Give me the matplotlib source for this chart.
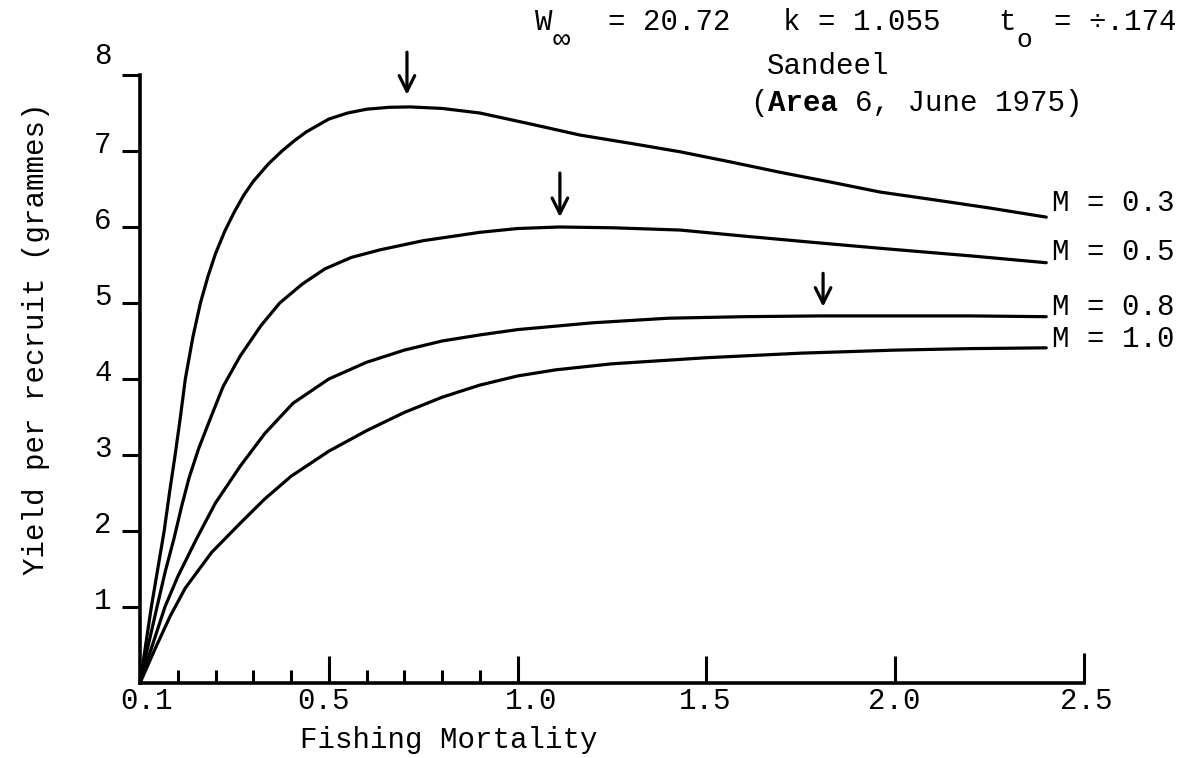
import matplotlib
matplotlib.use('Agg')
import matplotlib.pyplot as plt
from matplotlib.transforms import ScaledTranslation

# ---------------- data ----------------
f_m03 = [0, 0.015, 0.03, 0.047, 0.064, 0.078, 0.093, 0.107, 0.12, 0.14, 0.16, 0.18, 0.2, 0.225, 0.25,
         0.275, 0.3, 0.34, 0.376, 0.41, 0.44, 0.5, 0.55, 0.6, 0.66, 0.715, 0.8, 0.9,
         1.03, 1.165, 1.3, 1.43, 1.56, 1.695, 1.83, 1.96, 2.1, 2.25, 2.4]
y_m03 = [0, 0.5, 1.0, 1.5, 2.0, 2.5, 3.0, 3.5, 4.0, 4.55, 5.0, 5.35, 5.65, 5.95, 6.2,
         6.42, 6.6, 6.83, 7.0, 7.14, 7.25, 7.42, 7.5, 7.55, 7.575, 7.58, 7.56, 7.50,
         7.36, 7.21, 7.10, 6.99, 6.86, 6.72, 6.59, 6.46, 6.36, 6.25, 6.13]

f_m05 = [0, 0.022, 0.045, 0.067, 0.09, 0.11, 0.13, 0.155, 0.18, 0.22, 0.265, 0.32, 0.37, 0.43, 0.49,
         0.56, 0.636, 0.75, 0.9, 1.0, 1.11, 1.25, 1.43, 1.6, 1.8, 1.96, 2.2, 2.4]
y_m05 = [0, 0.5, 1.0, 1.47, 1.9, 2.32, 2.7, 3.08, 3.4, 3.9, 4.3, 4.7, 5.0, 5.25, 5.45,
         5.6, 5.70, 5.82, 5.93, 5.98, 6.0, 5.99, 5.96, 5.88, 5.79, 5.72, 5.62, 5.53]

f_m08 = [0, 0.033, 0.066, 0.1, 0.15, 0.2, 0.265, 0.33, 0.405, 0.5, 0.6, 0.7, 0.8, 0.9, 1.0, 1.2, 1.4,
         1.6, 1.8, 2.0, 2.2, 2.4]
y_m08 = [0, 0.5, 1.0, 1.4, 1.9, 2.37, 2.85, 3.28, 3.68, 4.0, 4.22, 4.38, 4.5, 4.58, 4.65, 4.74, 4.80,
         4.82, 4.83, 4.83, 4.83, 4.82]

f_m10 = [0, 0.04, 0.08, 0.12, 0.19, 0.265, 0.33, 0.4, 0.5, 0.6, 0.7, 0.8, 0.9, 1.0, 1.1, 1.25, 1.5,
         1.75, 2.0, 2.2, 2.4]
y_m10 = [0, 0.45, 0.88, 1.25, 1.72, 2.1, 2.42, 2.72, 3.05, 3.32, 3.56, 3.76, 3.92, 4.04, 4.12, 4.2, 4.28,
         4.34, 4.38, 4.40, 4.41]

curve_labels = ["M = 0.3", "M = 0.5", "M = 0.8", "M = 1.0"]
curve_label_y = [6.32, 5.67, 4.95, 4.53]

# arrows marking maxima (x, top, tip)
arrow_x = [0.707, 1.112, 1.809]
arrow_top = [8.3, 6.71, 5.39]
arrow_tip = [7.74, 6.13, 4.95]

x_major = [0, 0.5, 1.0, 1.5, 2.0, 2.5]
x_major_labels = ["0.1", "0.5", "1.0", "1.5", "2.0", "2.5"]
x_minor = [0.1, 0.2, 0.3, 0.4, 0.6, 0.7, 0.8, 0.9]
y_major = [1, 2, 3, 4, 5, 6, 7, 8]
y_major_labels = ["1", "2", "3", "4", "5", "6", "7", "8"]

# ---------------- figure ----------------
plt.rcParams['font.family'] = ['Liberation Mono', 'DejaVu Sans Mono']
FS = 21
W, H = 1189, 758
fig = plt.figure(figsize=(W / 100, H / 100), dpi=100)
ax = fig.add_axes([140 / W, (H - 683) / H, 944 / W, 608 / H])
ax.set_xlim(0, 2.5)
ax.set_ylim(0, 8)

for s in ['top', 'right']:
    ax.spines[s].set_visible(False)
for s in ['left', 'bottom']:
    ax.spines[s].set_linewidth(2.6)
    ax.spines[s].set_color('black')

lw = 2.3
for fx, fy in [(f_m03, y_m03), (f_m05, y_m05), (f_m08, y_m08), (f_m10, y_m10)]:
    ax.plot(fx, fy, color='black', lw=lw, solid_joinstyle='round', solid_capstyle='round', clip_on=False)

# x ticks
ax.set_xticks(x_major)
ax.set_xticklabels(x_major_labels, fontsize=FS)
ax.set_xticks(x_minor, minor=True)
ax.tick_params(axis='x', which='major', direction='in', length=19.5, width=2.2, pad=3)
ax.tick_params(axis='x', which='minor', direction='in', length=9.5, width=2.2)
xt = ax.xaxis.get_major_ticks()
xt[0].tick1line.set_visible(False)
xt[-1].tick1line.set_markersize(21.5)
x_off = [6, -5, 14, -1, -1, 2]
for lab, dx in zip(ax.get_xticklabels(), x_off):
    lab.set_transform(lab.get_transform() + ScaledTranslation(dx / 100, 0, fig.dpi_scale_trans))

# y ticks
ax.set_yticks(y_major)
ax.set_yticklabels(y_major_labels, fontsize=FS)
ax.tick_params(axis='y', which='major', direction='out', length=13, width=2.2, pad=6)
for lab in ax.get_yticklabels():
    dy = 22 if lab.get_text() == "8" else 9
    lab.set_transform(lab.get_transform() + ScaledTranslation(-2 / 100, dy / 100, fig.dpi_scale_trans))

ax.set_xlabel("Fishing Mortality", fontsize=FS)
ax.xaxis.label.set_va('center')
ax.xaxis.set_label_coords((449 - 140) / 944, (683 - 740) / 608)
ax.set_ylabel("Yield per recruit (grammes)", fontsize=FS)
ax.yaxis.label.set_va('center')
ax.yaxis.set_label_coords((36 - 140) / 944, (683 - 339) / 608)

# arrows
for ax_x, top, tip in zip(arrow_x, arrow_top, arrow_tip):
    ax.annotate("", xy=(ax_x, tip), xytext=(ax_x, top),
                arrowprops=dict(arrowstyle='->', lw=2.3, color='black', mutation_scale=28,
                                shrinkA=0, shrinkB=0),
                annotation_clip=False)

# curve labels
for lab, yy in zip(curve_labels, curve_label_y):
    ax.text(2.415, yy, lab, fontsize=FS, ha='left', va='center', clip_on=False)


def ftext(x, y, s, **kw):
    fig.text(x / W, 1 - y / H, s, fontsize=kw.pop('fontsize', FS), va=kw.pop('va', 'center'),
             ha=kw.pop('ha', 'left'), **kw)


# header parameters
adv = 17.5
ftext(535, 22, "W")
ftext(553, 40, "\u221e")
ftext(608, 22, "= 20.72")
ftext(783, 22, "k = 1.055")
ftext(998, 22, "t")
ftext(1016, 40, "o", fontsize=FS - 2)
ftext(1054, 22, "= \u00f7.174")

# title lines
ftext(767, 66, "Sandeel")
ftext(750, 103, "(")
ftext(750 + adv, 103, "Area", fontweight='bold')
ftext(750 + 6 * adv, 103, "6, June 1975)")

fig.savefig("out.png", dpi=100)
